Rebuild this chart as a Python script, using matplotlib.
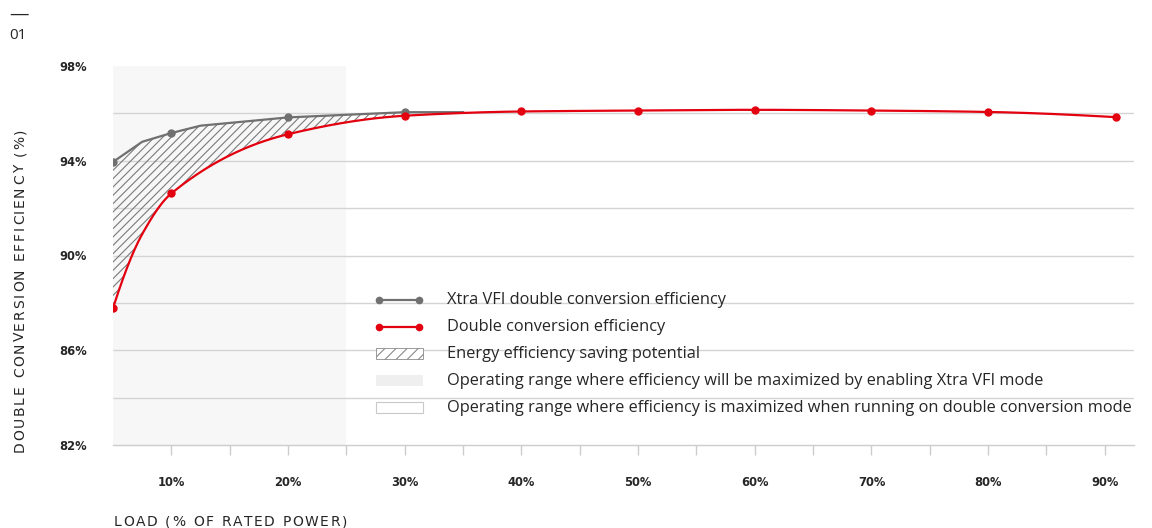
import numpy as np
import matplotlib
matplotlib.use("Agg")
import matplotlib.pyplot as plt
from matplotlib.patches import Rectangle
from matplotlib.lines import Line2D
from matplotlib import font_manager
from matplotlib.ft2font import FT2Font

# ---------------- data ----------------
load_red = [5, 7.5, 10, 20, 30, 40, 50, 60, 70, 80, 91]
eff_red = [87.78, 90.9, 92.62, 95.12, 95.9, 96.08, 96.12, 96.15, 96.12, 96.06, 95.84]
red_marker_idx = [0, 2, 3, 4, 5, 6, 7, 8, 9, 10]

load_vfi = [5, 7.5, 10, 12.5, 20, 30, 35]
eff_vfi = [93.95, 94.8, 95.17, 95.48, 95.83, 96.05, 96.05]
vfi_marker_idx = [0, 2, 4, 5]

hatch_range = (5, 30)
vfi_range = (5, 25)
x_limits = (5, 92.5)
y_limits = (82, 98)
x_major = [10, 20, 30, 40, 50, 60, 70, 80, 90]
x_labels = ["10%", "20%", "30%", "40%", "50%", "60%", "70%", "80%", "90%"]
x_minor = [15, 25, 35, 45, 55, 65, 75, 85]
y_major = [82, 86, 90, 94, 98]
y_labels = ["82%", "86%", "90%", "94%", "98%"]
y_grid = [84, 86, 88, 90, 92, 94, 96]

legend_labels = [
    "Xtra VFI double conversion efficiency",
    "Double conversion efficiency",
    "Energy efficiency saving potential",
    "Operating range where efficiency will be maximized by enabling Xtra VFI mode",
    "Operating range where efficiency is maximized when running on double conversion mode",
]

RED = "#e3000f"
GRAY = "#707070"
TXT = "#262626"
FONT = "Open Sans"
TICKFONT = "DejaVu Sans"
plt.rcParams["font.family"] = [FONT, "DejaVu Sans"]
plt.rcParams["hatch.linewidth"] = 0.8


def pchip(x, y, xs):
    x = np.asarray(x, float)
    y = np.asarray(y, float)
    h = np.diff(x)
    d = np.diff(y) / h
    n = len(x)
    m = np.zeros(n)
    for k in range(1, n - 1):
        if d[k - 1] * d[k] <= 0:
            m[k] = 0.0
        else:
            w1 = 2 * h[k] + h[k - 1]
            w2 = h[k] + 2 * h[k - 1]
            m[k] = (w1 + w2) / (w1 / d[k - 1] + w2 / d[k])

    def end(h0, h1, d0, d1):
        v = ((2 * h0 + h1) * d0 - h0 * d1) / (h0 + h1)
        if np.sign(v) != np.sign(d0):
            v = 0.0
        elif np.sign(d0) != np.sign(d1) and abs(v) > abs(3 * d0):
            v = 3 * d0
        return v

    m[0] = end(h[0], h[1], d[0], d[1])
    m[-1] = end(h[-1], h[-2], d[-1], d[-2])
    xs = np.asarray(xs, float)
    idx = np.clip(np.searchsorted(x, xs) - 1, 0, n - 2)
    t = (xs - x[idx]) / h[idx]
    h00 = 2 * t**3 - 3 * t**2 + 1
    h10 = t**3 - 2 * t**2 + t
    h01 = -2 * t**3 + 3 * t**2
    h11 = t**3 - t**2
    return h00 * y[idx] + h10 * h[idx] * m[idx] + h01 * y[idx + 1] + h11 * h[idx] * m[idx + 1]


W, H = 1152, 528
fig = plt.figure(figsize=(W / 100, H / 100), dpi=100)
ax = fig.add_axes([113 / W, 1 - 445 / H, (1134 - 113) / W, (445 - 66) / H])
ax.set_xlim(*x_limits)
ax.set_ylim(*y_limits)

# background regions
ax.axvspan(*vfi_range, color="#f7f7f7", zorder=0, lw=0)
ax.hlines(y_grid, x_limits[0], x_limits[1], colors="#d4d4d4", lw=1, zorder=1)

# hatched saving potential
xs_h = np.linspace(hatch_range[0], hatch_range[1], 300)
red_h = pchip(load_red, eff_red, xs_h)
vfi_h = np.interp(xs_h, load_vfi, eff_vfi)
ax.fill_between(xs_h, red_h, vfi_h, where=vfi_h >= red_h, facecolor="none",
                edgecolor="#7a7a7a", hatch="////", lw=0, zorder=2)

# lines
ax.plot(load_vfi, eff_vfi, color=GRAY, lw=1.6, zorder=3)
ax.plot(np.array(load_vfi)[vfi_marker_idx], np.array(eff_vfi)[vfi_marker_idx], "o",
        color=GRAY, ms=5, zorder=4)
xs = np.linspace(load_red[0], load_red[-1], 800)
ax.plot(xs, pchip(load_red, eff_red, xs), color=RED, lw=1.6, zorder=5)
ax.plot(np.array(load_red)[red_marker_idx], np.array(eff_red)[red_marker_idx], "o",
        color=RED, ms=5, zorder=6)

# axes styling
for s in ["top", "right", "left"]:
    ax.spines[s].set_visible(False)
ax.spines["bottom"].set_color("#cccccc")
ax.spines["bottom"].set_linewidth(1)
ax.set_xticks(x_major)
ax.set_xticklabels(x_labels, fontsize=8.3, fontweight="bold", color=TXT, family=TICKFONT)
ax.set_xticks(x_minor, minor=True)
ax.tick_params(axis="x", which="both", length=7, color="#cccccc", width=1, pad=15)
ax.set_yticks(y_major)
ax.set_yticklabels(y_labels, fontsize=8.3, fontweight="bold", color=TXT, family=TICKFONT)
ax.tick_params(axis="y", length=0, pad=19)


# letter-spaced axis titles
def advances(s, fs, family):
    fp = font_manager.FontProperties(family=family, size=fs)
    f = FT2Font(font_manager.findfont(fp))
    f.set_size(fs, 100)
    out = []
    for c in s:
        g = f.load_char(ord(c))
        out.append(g.linearHoriAdvance / 65536.0)
    return out


def spaced(s, x0, y0, fs, target_len, rotation, family):
    adv = advances(s, fs, family)
    extra = (target_len - sum(adv[:-1]) - adv[-1] * 0.8) / (len(s) - 1)
    pos = 0.0
    for c, a in zip(s, adv):
        if rotation == 90:
            px, py = x0, y0 - pos
        else:
            px, py = x0 + pos, y0
        fig.text(px / W, 1 - py / H, c, fontsize=fs, color=TXT, rotation=rotation,
                 rotation_mode="anchor", ha="left", va="baseline", family=family)
        pos += a + extra


spaced("DOUBLE CONVERSION EFFICIENCY (%)", 24, 452, 10, 322, 90, TICKFONT)
spaced("LOAD (% OF RATED POWER)", 114, 526, 10, 232, 0, TICKFONT)

# top-left marker
fig.text(9 / W, 1 - 15 / H, "—", fontsize=14, color=TXT, va="center", ha="left")
fig.text(9 / W, 1 - 36 / H, "01", fontsize=11, color=TXT, va="center", ha="left")


# legend (manual)
def fx(x):
    return x / W


def fy(y):
    return 1 - y / H


rows = [300, 327, 354, 381, 408]
fig.add_artist(Line2D([fx(379), fx(419)], [fy(rows[0])] * 2, color=GRAY, lw=1.6,
                      marker="o", ms=4.5, transform=fig.transFigure))
fig.add_artist(Line2D([fx(379), fx(419)], [fy(rows[1])] * 2, color=RED, lw=1.6,
                      marker="o", ms=4.5, transform=fig.transFigure))
fig.add_artist(Rectangle((fx(376), fy(rows[2] + 5)), 47 / W, 11 / H, transform=fig.transFigure,
                         facecolor="white", edgecolor="#8a8a8a", hatch="///", lw=0.6))
fig.add_artist(Rectangle((fx(376), fy(rows[3] + 5)), 47 / W, 11 / H, transform=fig.transFigure,
                         facecolor="#efefef", edgecolor="none", lw=0))
fig.add_artist(Rectangle((fx(376), fy(rows[4] + 5)), 47 / W, 11 / H, transform=fig.transFigure,
                         facecolor="white", edgecolor="#c8c8c8", lw=0.8))
for r, lab in zip(rows, legend_labels):
    fig.text(fx(447), fy(r), lab, fontsize=11.8, color=TXT, ha="left", va="center")

fig.savefig("out.png", dpi=100)
